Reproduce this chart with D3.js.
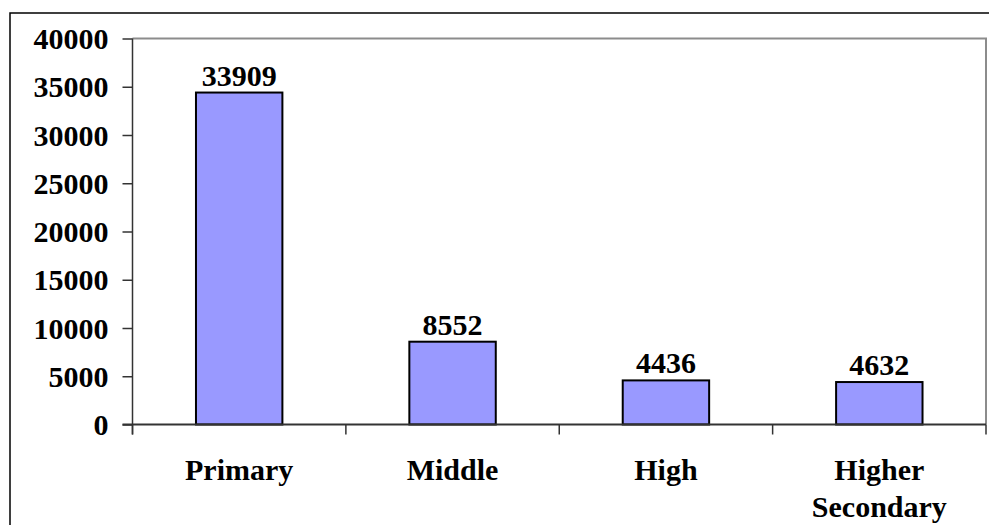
<!DOCTYPE html>
<html>
<head>
<meta charset="utf-8">
<script src="https://cdn.jsdelivr.net/npm/d3@7"></script>
<style>
  html, body { margin: 0; padding: 0; background: #fff; overflow: hidden; }
  svg { display: block; }
  text { font-family: "Liberation Serif", "Times New Roman", serif; font-weight: bold; fill: #000; }
</style>
</head>
<body>
<svg id="chart" width="989" height="525"></svg>
<script>
// Data
const categories = ["Primary", "Middle", "High", "Higher Secondary"];
const barValues = [34400, 8580, 4570, 4400];          // bar heights as drawn
const valueLabels = ["33909", "8552", "4436", "4632"]; // printed data labels
const yTicks = [0, 5000, 10000, 15000, 20000, 25000, 30000, 35000, 40000];

const svg = d3.select("#chart");
const plot = { left: 132.5, right: 986, top: 38.5, bottom: 424.5 };
const FS = 30;

// Outer chart border (extends past the viewport on right/bottom)
svg.append("rect")
  .attr("x", 10).attr("y", 13)
  .attr("width", 1000).attr("height", 600)
  .attr("fill", "#fff").attr("stroke", "#000").attr("stroke-width", 1.5);

const x = d3.scaleBand().domain(categories).range([plot.left, plot.right]).padding(0);
const y = d3.scaleLinear().domain([0, 40000]).range([plot.bottom, plot.top]);

// Plot area border (gray top/right)
svg.append("path")
  .attr("d", `M${plot.left},${plot.top}H${plot.right}V${plot.bottom}`)
  .attr("fill", "none").attr("stroke", "#8c8c8c").attr("stroke-width", 2);

// Bars
const bw = x.bandwidth() * 0.405;
svg.append("g").selectAll("rect")
  .data(categories)
  .join("rect")
  .attr("x", (d) => x(d) + (x.bandwidth() - bw) / 2)
  .attr("y", (d, i) => y(barValues[i]))
  .attr("width", bw)
  .attr("height", (d, i) => y(0) - y(barValues[i]))
  .attr("fill", "#9999ff")
  .attr("stroke", "#000").attr("stroke-width", 2);

// Value labels
svg.append("g").selectAll("text")
  .data(categories)
  .join("text")
  .attr("x", (d) => x(d) + x.bandwidth() / 2)
  .attr("y", (d, i) => y(barValues[i]) - 7)
  .attr("text-anchor", "middle")
  .attr("font-size", FS)
  .text((d, i) => valueLabels[i]);

// Y axis
const yAxis = d3.axisLeft(y).tickValues(yTicks).tickSize(10).tickPadding(14).tickFormat(d3.format("d"));
const gy = svg.append("g").attr("transform", `translate(${plot.left},0)`).call(yAxis);
gy.select(".domain").attr("stroke", "#333").attr("stroke-width", 1.5)
  .attr("d", `M0,${plot.top}V${plot.bottom + 10}`);
gy.selectAll(".tick line").attr("stroke", "#333").attr("stroke-width", 1.5);
gy.selectAll(".tick text")
  .attr("font-size", FS).attr("font-family", "Liberation Serif, Times New Roman, serif")
  .attr("font-weight", "bold").attr("fill", "#000").attr("dy", "0.34em");

// X axis baseline and category ticks
svg.append("line")
  .attr("x1", plot.left - 10).attr("x2", plot.right)
  .attr("y1", y(0)).attr("y2", y(0))
  .attr("stroke", "#333").attr("stroke-width", 2);
const bounds = categories.map((d) => x(d)).concat([plot.right]);
svg.append("g").selectAll("line")
  .data(bounds)
  .join("line")
  .attr("x1", (d) => d).attr("x2", (d) => d)
  .attr("y1", y(0)).attr("y2", y(0) + 10)
  .attr("stroke", "#333").attr("stroke-width", 1.5);

// Category labels (wrapped)
const catG = svg.append("g").selectAll("text")
  .data(categories)
  .join("text")
  .attr("x", (d) => x(d) + x.bandwidth() / 2)
  .attr("y", 480)
  .attr("text-anchor", "middle")
  .attr("font-size", FS);
catG.each(function (d) {
  const words = d.split(" ");
  const t = d3.select(this);
  words.forEach((w, i) => {
    t.append("tspan")
      .attr("x", x(d) + x.bandwidth() / 2)
      .attr("dy", i === 0 ? 0 : 37)
      .text(w);
  });
});
</script>
</body>
</html>
